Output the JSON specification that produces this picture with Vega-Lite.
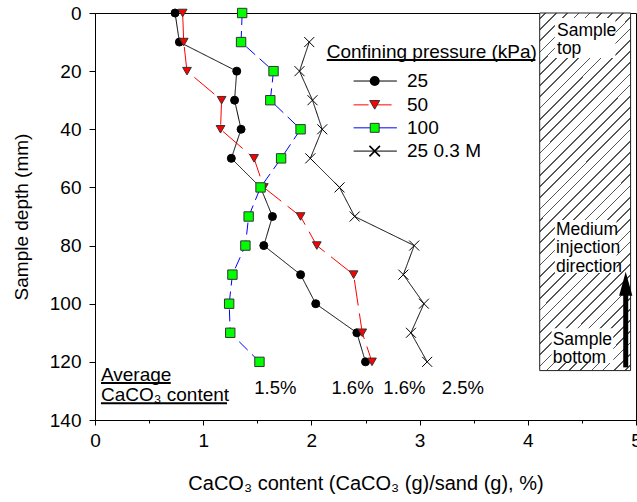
{
  "$schema": "https://vega.github.io/schema/vega-lite/v6.json",
  "autosize": {"type": "none"},
  "padding": {"left": 95, "top": 13, "right": 1, "bottom": 82},
  "width": 541,
  "height": 407,
  "background": "white",
  "config": {
    "font": "Liberation Sans",
    "view": {"stroke": "#000", "strokeWidth": 1},
    "axis": {"labelFont": "Liberation Sans", "titleFont": "Liberation Sans", "labelColor": "#000", "titleColor": "#000", "domainColor": "#000", "tickColor": "#000", "grid": false, "labelFontSize": 19, "titleFontSize": 19, "titleFontWeight": "normal", "labelFlush": false, "labelOverlap": false},
    "text": {"font": "Liberation Sans", "fontSize": 19, "color": "#000"}
  },
  "datasets": {
    "main": [
      {"series": "25", "depth": 0, "caco3": 0.74},
      {"series": "25", "depth": 10, "caco3": 0.78},
      {"series": "25", "depth": 20, "caco3": 1.31},
      {"series": "25", "depth": 30, "caco3": 1.29},
      {"series": "25", "depth": 40, "caco3": 1.35},
      {"series": "25", "depth": 50, "caco3": 1.26},
      {"series": "25", "depth": 60, "caco3": 1.53},
      {"series": "25", "depth": 70, "caco3": 1.64},
      {"series": "25", "depth": 80, "caco3": 1.56},
      {"series": "25", "depth": 90, "caco3": 1.90},
      {"series": "25", "depth": 100, "caco3": 2.04},
      {"series": "25", "depth": 110, "caco3": 2.42},
      {"series": "25", "depth": 120, "caco3": 2.50},
      {"series": "50", "depth": 0, "caco3": 0.81},
      {"series": "50", "depth": 10, "caco3": 0.82},
      {"series": "50", "depth": 20, "caco3": 0.85},
      {"series": "50", "depth": 30, "caco3": 1.17},
      {"series": "50", "depth": 40, "caco3": 1.16},
      {"series": "50", "depth": 50, "caco3": 1.47},
      {"series": "50", "depth": 60, "caco3": 1.56},
      {"series": "50", "depth": 70, "caco3": 1.90},
      {"series": "50", "depth": 80, "caco3": 2.05},
      {"series": "50", "depth": 90, "caco3": 2.39},
      {"series": "50", "depth": 110, "caco3": 2.47},
      {"series": "50", "depth": 120, "caco3": 2.56},
      {"series": "100", "depth": 0, "caco3": 1.36},
      {"series": "100", "depth": 10, "caco3": 1.35},
      {"series": "100", "depth": 20, "caco3": 1.65},
      {"series": "100", "depth": 30, "caco3": 1.62},
      {"series": "100", "depth": 40, "caco3": 1.90},
      {"series": "100", "depth": 50, "caco3": 1.72},
      {"series": "100", "depth": 60, "caco3": 1.53},
      {"series": "100", "depth": 70, "caco3": 1.42},
      {"series": "100", "depth": 80, "caco3": 1.39},
      {"series": "100", "depth": 90, "caco3": 1.27},
      {"series": "100", "depth": 100, "caco3": 1.24},
      {"series": "100", "depth": 110, "caco3": 1.25},
      {"series": "100", "depth": 120, "caco3": 1.52},
      {"series": "25 0.3 M", "depth": 10, "caco3": 1.98},
      {"series": "25 0.3 M", "depth": 20, "caco3": 1.89},
      {"series": "25 0.3 M", "depth": 30, "caco3": 2.01},
      {"series": "25 0.3 M", "depth": 40, "caco3": 2.10},
      {"series": "25 0.3 M", "depth": 50, "caco3": 1.99},
      {"series": "25 0.3 M", "depth": 60, "caco3": 2.26},
      {"series": "25 0.3 M", "depth": 70, "caco3": 2.40},
      {"series": "25 0.3 M", "depth": 80, "caco3": 2.95},
      {"series": "25 0.3 M", "depth": 90, "caco3": 2.85},
      {"series": "25 0.3 M", "depth": 100, "caco3": 3.04},
      {"series": "25 0.3 M", "depth": 110, "caco3": 2.92},
      {"series": "25 0.3 M", "depth": 120, "caco3": 3.07}
    ]
  },
  "layer": [
    {
      "data": {"values": [{}]},
      "mark": {"type": "rect", "stroke": "#222", "strokeWidth": 1,
        "fill": {"gradient": "linear", "x1": 0, "y1": 0, "x2": 0.3, "y2": 1.178, "stops": [
          {"offset":0,"color":"#fff"},
          {"offset":0.0106,"color":"#fff"},{"offset":0.0106,"color":"#555"},{"offset":0.0144,"color":"#555"},{"offset":0.0144,"color":"#fff"},
          {"offset":0.0356,"color":"#fff"},{"offset":0.0356,"color":"#555"},{"offset":0.0394,"color":"#555"},{"offset":0.0394,"color":"#fff"},
          {"offset":0.0606,"color":"#fff"},{"offset":0.0606,"color":"#555"},{"offset":0.0644,"color":"#555"},{"offset":0.0644,"color":"#fff"},
          {"offset":0.0856,"color":"#fff"},{"offset":0.0856,"color":"#555"},{"offset":0.0894,"color":"#555"},{"offset":0.0894,"color":"#fff"},
          {"offset":0.1106,"color":"#fff"},{"offset":0.1106,"color":"#555"},{"offset":0.1144,"color":"#555"},{"offset":0.1144,"color":"#fff"},
          {"offset":0.1356,"color":"#fff"},{"offset":0.1356,"color":"#555"},{"offset":0.1394,"color":"#555"},{"offset":0.1394,"color":"#fff"},
          {"offset":0.1606,"color":"#fff"},{"offset":0.1606,"color":"#555"},{"offset":0.1644,"color":"#555"},{"offset":0.1644,"color":"#fff"},
          {"offset":0.1856,"color":"#fff"},{"offset":0.1856,"color":"#555"},{"offset":0.1894,"color":"#555"},{"offset":0.1894,"color":"#fff"},
          {"offset":0.2106,"color":"#fff"},{"offset":0.2106,"color":"#555"},{"offset":0.2144,"color":"#555"},{"offset":0.2144,"color":"#fff"},
          {"offset":0.2356,"color":"#fff"},{"offset":0.2356,"color":"#555"},{"offset":0.2394,"color":"#555"},{"offset":0.2394,"color":"#fff"},
          {"offset":0.2606,"color":"#fff"},{"offset":0.2606,"color":"#555"},{"offset":0.2644,"color":"#555"},{"offset":0.2644,"color":"#fff"},
          {"offset":0.2856,"color":"#fff"},{"offset":0.2856,"color":"#555"},{"offset":0.2894,"color":"#555"},{"offset":0.2894,"color":"#fff"},
          {"offset":0.3106,"color":"#fff"},{"offset":0.3106,"color":"#555"},{"offset":0.3144,"color":"#555"},{"offset":0.3144,"color":"#fff"},
          {"offset":0.3356,"color":"#fff"},{"offset":0.3356,"color":"#555"},{"offset":0.3394,"color":"#555"},{"offset":0.3394,"color":"#fff"},
          {"offset":0.3606,"color":"#fff"},{"offset":0.3606,"color":"#555"},{"offset":0.3644,"color":"#555"},{"offset":0.3644,"color":"#fff"},
          {"offset":0.3856,"color":"#fff"},{"offset":0.3856,"color":"#555"},{"offset":0.3894,"color":"#555"},{"offset":0.3894,"color":"#fff"},
          {"offset":0.4106,"color":"#fff"},{"offset":0.4106,"color":"#555"},{"offset":0.4144,"color":"#555"},{"offset":0.4144,"color":"#fff"},
          {"offset":0.4356,"color":"#fff"},{"offset":0.4356,"color":"#555"},{"offset":0.4394,"color":"#555"},{"offset":0.4394,"color":"#fff"},
          {"offset":0.4606,"color":"#fff"},{"offset":0.4606,"color":"#555"},{"offset":0.4644,"color":"#555"},{"offset":0.4644,"color":"#fff"},
          {"offset":0.4856,"color":"#fff"},{"offset":0.4856,"color":"#555"},{"offset":0.4894,"color":"#555"},{"offset":0.4894,"color":"#fff"},
          {"offset":0.5106,"color":"#fff"},{"offset":0.5106,"color":"#555"},{"offset":0.5144,"color":"#555"},{"offset":0.5144,"color":"#fff"},
          {"offset":0.5356,"color":"#fff"},{"offset":0.5356,"color":"#555"},{"offset":0.5394,"color":"#555"},{"offset":0.5394,"color":"#fff"},
          {"offset":0.5606,"color":"#fff"},{"offset":0.5606,"color":"#555"},{"offset":0.5644,"color":"#555"},{"offset":0.5644,"color":"#fff"},
          {"offset":0.5856,"color":"#fff"},{"offset":0.5856,"color":"#555"},{"offset":0.5894,"color":"#555"},{"offset":0.5894,"color":"#fff"},
          {"offset":0.6106,"color":"#fff"},{"offset":0.6106,"color":"#555"},{"offset":0.6144,"color":"#555"},{"offset":0.6144,"color":"#fff"},
          {"offset":0.6356,"color":"#fff"},{"offset":0.6356,"color":"#555"},{"offset":0.6394,"color":"#555"},{"offset":0.6394,"color":"#fff"},
          {"offset":0.6606,"color":"#fff"},{"offset":0.6606,"color":"#555"},{"offset":0.6644,"color":"#555"},{"offset":0.6644,"color":"#fff"},
          {"offset":0.6856,"color":"#fff"},{"offset":0.6856,"color":"#555"},{"offset":0.6894,"color":"#555"},{"offset":0.6894,"color":"#fff"},
          {"offset":0.7106,"color":"#fff"},{"offset":0.7106,"color":"#555"},{"offset":0.7144,"color":"#555"},{"offset":0.7144,"color":"#fff"},
          {"offset":0.7356,"color":"#fff"},{"offset":0.7356,"color":"#555"},{"offset":0.7394,"color":"#555"},{"offset":0.7394,"color":"#fff"},
          {"offset":0.7606,"color":"#fff"},{"offset":0.7606,"color":"#555"},{"offset":0.7644,"color":"#555"},{"offset":0.7644,"color":"#fff"},
          {"offset":0.7856,"color":"#fff"},{"offset":0.7856,"color":"#555"},{"offset":0.7894,"color":"#555"},{"offset":0.7894,"color":"#fff"},
          {"offset":0.8106,"color":"#fff"},{"offset":0.8106,"color":"#555"},{"offset":0.8144,"color":"#555"},{"offset":0.8144,"color":"#fff"},
          {"offset":0.8356,"color":"#fff"},{"offset":0.8356,"color":"#555"},{"offset":0.8394,"color":"#555"},{"offset":0.8394,"color":"#fff"},
          {"offset":0.8606,"color":"#fff"},{"offset":0.8606,"color":"#555"},{"offset":0.8644,"color":"#555"},{"offset":0.8644,"color":"#fff"},
          {"offset":0.8856,"color":"#fff"},{"offset":0.8856,"color":"#555"},{"offset":0.8894,"color":"#555"},{"offset":0.8894,"color":"#fff"},
          {"offset":0.9106,"color":"#fff"},{"offset":0.9106,"color":"#555"},{"offset":0.9144,"color":"#555"},{"offset":0.9144,"color":"#fff"},
          {"offset":0.9356,"color":"#fff"},{"offset":0.9356,"color":"#555"},{"offset":0.9394,"color":"#555"},{"offset":0.9394,"color":"#fff"},
          {"offset":0.9606,"color":"#fff"},{"offset":0.9606,"color":"#555"},{"offset":0.9644,"color":"#555"},{"offset":0.9644,"color":"#fff"},
          {"offset":0.9856,"color":"#fff"},{"offset":0.9856,"color":"#555"},{"offset":0.9894,"color":"#555"},{"offset":0.9894,"color":"#fff"},
          {"offset":1,"color":"#fff"}
        ]}},
      "encoding": {
        "x": {"datum": 4.11, "type": "quantitative"},
        "x2": {"datum": 4.95},
        "y": {"datum": 0, "type": "quantitative"},
        "y2": {"datum": 123}
      }
    },
    {
      "data": {"values": [{}]},
      "mark": {"type": "rect", "fill": "white"},
      "encoding": {"x": {"datum": 4.25, "type": "quantitative"}, "x2": {"datum": 4.81}, "y": {"datum": 1.7, "type": "quantitative"}, "y2": {"datum": 15.5}}
    },
    {
      "data": {"values": [{}]},
      "mark": {"type": "rect", "fill": "white"},
      "encoding": {"x": {"datum": 4.25, "type": "quantitative"}, "x2": {"datum": 4.82}, "y": {"datum": 71.2, "type": "quantitative"}, "y2": {"datum": 89.4}}
    },
    {
      "data": {"values": [{}]},
      "mark": {"type": "rect", "fill": "white"},
      "encoding": {"x": {"datum": 4.22, "type": "quantitative"}, "x2": {"datum": 4.79}, "y": {"datum": 108.4, "type": "quantitative"}, "y2": {"datum": 120.4}}
    },
    {
      "data": {"values": [{}]},
      "mark": {"type": "text", "text": ["Sample", "top"], "align": "left", "baseline": "top", "fontSize": 17.5, "lineHeight": 18.5},
      "encoding": {"x": {"datum": 4.27, "type": "quantitative"}, "y": {"datum": 3.0, "type": "quantitative"}}
    },
    {
      "data": {"values": [{}]},
      "mark": {"type": "text", "text": ["Medium", "injection", "direction"], "align": "left", "baseline": "top", "fontSize": 17.5, "lineHeight": 18.5},
      "encoding": {"x": {"datum": 4.26, "type": "quantitative"}, "y": {"datum": 71.4, "type": "quantitative"}}
    },
    {
      "data": {"values": [{}]},
      "mark": {"type": "text", "text": ["Sample", "bottom"], "align": "left", "baseline": "top", "fontSize": 17.5, "lineHeight": 18.5},
      "encoding": {"x": {"datum": 4.23, "type": "quantitative"}, "y": {"datum": 109.3, "type": "quantitative"}}
    },
    {
      "data": {"values": [{}]},
      "mark": {"type": "rule", "color": "#000", "strokeWidth": 5, "strokeCap": "butt"},
      "encoding": {"x": {"datum": 4.905, "type": "quantitative"}, "y": {"datum": 96, "type": "quantitative"}, "y2": {"datum": 121.9}}
    },
    {
      "data": {"values": [{}]},
      "mark": {"type": "point", "shape": "M0,-1L0.55,1L-0.55,1Z", "size": 576, "filled": true, "fill": "#000", "stroke": null, "opacity": 1},
      "encoding": {"x": {"datum": 4.905, "type": "quantitative"}, "y": {"datum": 93.1, "type": "quantitative"}}
    },
    {
      "data": {"name": "main"},
      "mark": {"type": "line", "strokeWidth": 1},
      "encoding": {
        "x": {"field": "caco3", "type": "quantitative", "scale": {"domain": [0, 5], "nice": false, "zero": false},
          "axis": {"title": "CaCO₃ content (CaCO₃ (g)/sand (g), %)", "titleFontSize": 20, "titlePadding": 23,
            "values": [0, 0.5, 1, 1.5, 2, 2.5, 3, 3.5, 4, 4.5, 5],
            "labelExpr": "datum.value % 1 === 0 ? format(datum.value, 'd') : ''",
            "tickSize": {"condition": {"test": "datum.value % 1 !== 0", "value": 3}, "value": 5},
            "labelPadding": 6}},
        "y": {"field": "depth", "type": "quantitative", "scale": {"domain": [0, 140], "reverse": true, "nice": false},
          "axis": {"title": "Sample depth (mm)", "titlePadding": 18,
            "values": [0, 10, 20, 30, 40, 50, 60, 70, 80, 90, 100, 110, 120, 130, 140],
            "labelExpr": "datum.value % 20 === 0 ? format(datum.value, 'd') : ''",
            "tickSize": 6, "labelPadding": 8}},
        "color": {"field": "series", "type": "nominal", "scale": {"domain": ["25", "50", "100", "25 0.3 M"], "range": ["#000000", "#ff0000", "#0000ff", "#000000"]}, "legend": null},
        "strokeDash": {"field": "series", "type": "nominal", "scale": {"domain": ["25", "50", "100", "25 0.3 M"], "range": [[1, 0], [26, 8], [12, 6], [1, 0]]}, "legend": null},
        "order": {"field": "depth", "type": "quantitative"}
      }
    },
    {
      "data": {"name": "main"},
      "mark": {"type": "point", "opacity": 1, "fillOpacity": 1, "strokeOpacity": 1},
      "encoding": {
        "x": {"field": "caco3", "type": "quantitative"},
        "y": {"field": "depth", "type": "quantitative"},
        "shape": {"field": "series", "type": "nominal", "scale": {"domain": ["25", "50", "100", "25 0.3 M"], "range": ["circle", "triangle-down", "square", "M-1,-1L1,1M-1,1L1,-1"]}, "legend": null},
        "fill": {"field": "series", "type": "nominal", "scale": {"domain": ["25", "50", "100", "25 0.3 M"], "range": ["#000000", "#ff0000", "#00ff00", "transparent"]}, "legend": null},
        "stroke": {"field": "series", "type": "nominal", "scale": {"domain": ["25", "50", "100", "25 0.3 M"], "range": ["#000000", "#333333", "#333333", "#000000"]}, "legend": null},
        "size": {"field": "series", "type": "nominal", "scale": {"domain": ["25", "50", "100", "25 0.3 M"], "range": [64, 100, 80, 110]}, "legend": null},
        "strokeWidth": {"field": "series", "type": "nominal", "scale": {"domain": ["25", "50", "100", "25 0.3 M"], "range": [1, 1, 1, 1.6]}, "legend": null}
      }
    },
    {
      "data": {"values": [{}]},
      "mark": {"type": "text", "text": "Confining pressure (kPa)", "align": "left", "baseline": "middle"},
      "encoding": {"x": {"datum": 2.142, "type": "quantitative"}, "y": {"datum": 13.3, "type": "quantitative"}}
    },
    {
      "data": {"values": [{}]},
      "mark": {"type": "rule", "color": "#000", "strokeWidth": 2},
      "encoding": {"x": {"datum": 2.142, "type": "quantitative"}, "x2": {"datum": 4.07}, "y": {"datum": 16.2, "type": "quantitative"}}
    },
    {
      "data": {"values": [{}]},
      "mark": {"type": "rule", "color": "#000", "strokeWidth": 1},
      "encoding": {"x": {"datum": 2.39, "type": "quantitative"}, "x2": {"datum": 2.79}, "y": {"datum": 23.4, "type": "quantitative"}}
    },
    {
      "data": {"values": [{}]},
      "mark": {"type": "rule", "color": "#ff0000", "strokeWidth": 1, "strokeDash": [15, 8]},
      "encoding": {"x": {"datum": 2.39, "type": "quantitative"}, "x2": {"datum": 2.79}, "y": {"datum": 31.6, "type": "quantitative"}}
    },
    {
      "data": {"values": [{}]},
      "mark": {"type": "rule", "color": "#0000ff", "strokeWidth": 1},
      "encoding": {"x": {"datum": 2.39, "type": "quantitative"}, "x2": {"datum": 2.79}, "y": {"datum": 39.5, "type": "quantitative"}}
    },
    {
      "data": {"values": [{}]},
      "mark": {"type": "rule", "color": "#000", "strokeWidth": 1},
      "encoding": {"x": {"datum": 2.39, "type": "quantitative"}, "x2": {"datum": 2.79}, "y": {"datum": 47.5, "type": "quantitative"}}
    },
    {
      "data": {"values": [{}]},
      "mark": {"type": "point", "shape": "circle", "size": 64, "filled": true, "fill": "#000", "stroke": "#000", "opacity": 1},
      "encoding": {"x": {"datum": 2.585, "type": "quantitative"}, "y": {"datum": 23.4, "type": "quantitative"}}
    },
    {
      "data": {"values": [{}]},
      "mark": {"type": "point", "shape": "triangle-down", "size": 100, "filled": true, "fill": "#ff0000", "stroke": "#333", "strokeWidth": 1, "opacity": 1},
      "encoding": {"x": {"datum": 2.585, "type": "quantitative"}, "y": {"datum": 31.6, "type": "quantitative"}}
    },
    {
      "data": {"values": [{}]},
      "mark": {"type": "point", "shape": "square", "size": 80, "filled": true, "fill": "#00ff00", "stroke": "#333", "strokeWidth": 1, "opacity": 1},
      "encoding": {"x": {"datum": 2.585, "type": "quantitative"}, "y": {"datum": 39.5, "type": "quantitative"}}
    },
    {
      "data": {"values": [{}]},
      "mark": {"type": "point", "shape": "M-1,-1L1,1M-1,1L1,-1", "size": 110, "filled": false, "stroke": "#000", "strokeWidth": 1.6, "opacity": 1},
      "encoding": {"x": {"datum": 2.585, "type": "quantitative"}, "y": {"datum": 47.5, "type": "quantitative"}}
    },
    {
      "data": {"values": [{}]},
      "mark": {"type": "text", "text": "25", "align": "left", "baseline": "middle"},
      "encoding": {"x": {"datum": 2.884, "type": "quantitative"}, "y": {"datum": 23.4, "type": "quantitative"}}
    },
    {
      "data": {"values": [{}]},
      "mark": {"type": "text", "text": "50", "align": "left", "baseline": "middle"},
      "encoding": {"x": {"datum": 2.884, "type": "quantitative"}, "y": {"datum": 31.6, "type": "quantitative"}}
    },
    {
      "data": {"values": [{}]},
      "mark": {"type": "text", "text": "100", "align": "left", "baseline": "middle"},
      "encoding": {"x": {"datum": 2.884, "type": "quantitative"}, "y": {"datum": 39.5, "type": "quantitative"}}
    },
    {
      "data": {"values": [{}]},
      "mark": {"type": "text", "text": "25 0.3 M", "align": "left", "baseline": "middle"},
      "encoding": {"x": {"datum": 2.884, "type": "quantitative"}, "y": {"datum": 47.5, "type": "quantitative"}}
    },
    {
      "data": {"values": [{}]},
      "mark": {"type": "text", "text": "Average", "align": "left", "baseline": "middle"},
      "encoding": {"x": {"datum": 0.055, "type": "quantitative"}, "y": {"datum": 124.5, "type": "quantitative"}}
    },
    {
      "data": {"values": [{}]},
      "mark": {"type": "rule", "color": "#000", "strokeWidth": 2},
      "encoding": {"x": {"datum": 0.055, "type": "quantitative"}, "x2": {"datum": 0.70}, "y": {"datum": 127.3, "type": "quantitative"}}
    },
    {
      "data": {"values": [{}]},
      "mark": {"type": "text", "text": "CaCO₃ content", "align": "left", "baseline": "middle"},
      "encoding": {"x": {"datum": 0.055, "type": "quantitative"}, "y": {"datum": 131.4, "type": "quantitative"}}
    },
    {
      "data": {"values": [{}]},
      "mark": {"type": "rule", "color": "#000", "strokeWidth": 2},
      "encoding": {"x": {"datum": 0.055, "type": "quantitative"}, "x2": {"datum": 1.22}, "y": {"datum": 134.2, "type": "quantitative"}}
    },
    {
      "data": {"values": [{}]},
      "mark": {"type": "text", "text": "1.5%", "align": "center", "baseline": "middle", "fontSize": 18.5},
      "encoding": {"x": {"datum": 1.667, "type": "quantitative"}, "y": {"datum": 129.0, "type": "quantitative"}}
    },
    {
      "data": {"values": [{}]},
      "mark": {"type": "text", "text": "1.6%", "align": "center", "baseline": "middle", "fontSize": 18.5},
      "encoding": {"x": {"datum": 2.38, "type": "quantitative"}, "y": {"datum": 129.0, "type": "quantitative"}}
    },
    {
      "data": {"values": [{}]},
      "mark": {"type": "text", "text": "1.6%", "align": "center", "baseline": "middle", "fontSize": 18.5},
      "encoding": {"x": {"datum": 2.86, "type": "quantitative"}, "y": {"datum": 129.0, "type": "quantitative"}}
    },
    {
      "data": {"values": [{}]},
      "mark": {"type": "text", "text": "2.5%", "align": "center", "baseline": "middle", "fontSize": 18.5},
      "encoding": {"x": {"datum": 3.40, "type": "quantitative"}, "y": {"datum": 129.0, "type": "quantitative"}}
    }
  ]
}
